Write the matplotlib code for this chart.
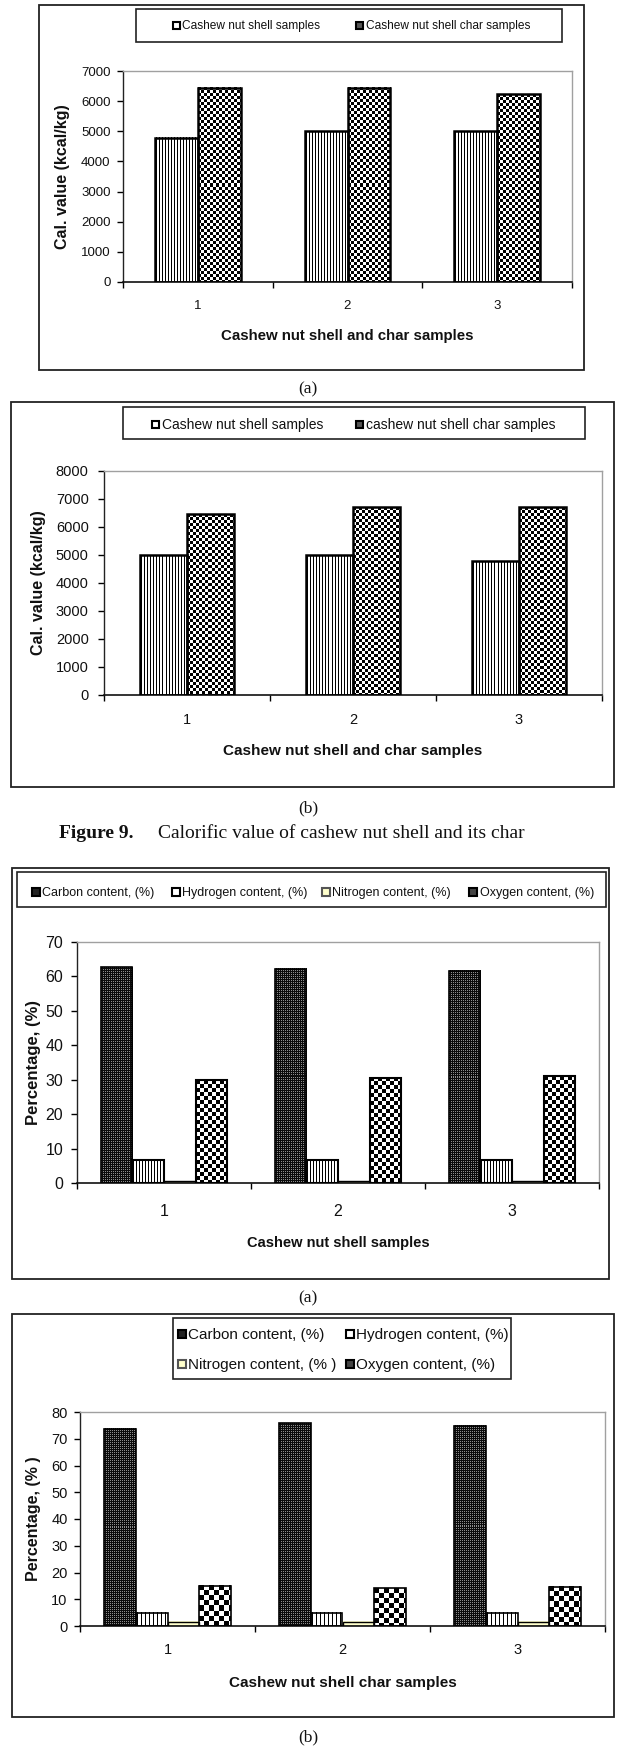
import numpy as np
import matplotlib
matplotlib.use("Agg")
import matplotlib.pyplot as plt
from matplotlib.patches import Rectangle

# ---------------- data ----------------
samples = ["1", "2", "3"]

cal_a_labels = ["Cashew nut shell samples", "Cashew nut shell char samples"]
cal_a_shell = [4790, 5000, 5000]
cal_a_char = [6450, 6450, 6230]

cal_b_labels = ["Cashew nut shell samples", "cashew nut shell char samples"]
cal_b_shell = [5000, 5000, 4780]
cal_b_char = [6450, 6700, 6700]

ult_a_labels = ["Carbon content, (%)", "Hydrogen content, (%)",
                "Nitrogen content, (%)", "Oxygen content, (%)"]
ult_a_carbon = [62.6, 62.2, 61.6]
ult_a_hydrogen = [6.6, 6.6, 6.6]
ult_a_nitrogen = [0.5, 0.5, 0.5]
ult_a_oxygen = [29.9, 30.6, 31.0]

ult_b_labels = ["Carbon content, (%)", "Hydrogen content, (%)",
                "Nitrogen content, (% )", "Oxygen content, (%)"]
ult_b_carbon = [73.8, 75.8, 74.8]
ult_b_hydrogen = [5.0, 5.0, 5.0]
ult_b_nitrogen = [1.5, 1.5, 1.5]
ult_b_oxygen = [15.1, 14.1, 14.7]

# ---------------- setup ----------------
W, H, DPI = 617, 1747, 100
SANS = ["Liberation Sans", "DejaVu Sans"]
SERIF = ["Liberation Serif", "DejaVu Serif"]
TXT = "#111111"

fig = plt.figure(figsize=(W / DPI, H / DPI), dpi=DPI)
fig.patch.set_facecolor("white")


def px_rect(x0, y0, x1, y1):
    return [x0 / W, 1 - y1 / H, (x1 - x0) / W, (y1 - y0) / H]


def box(x0, y0, x1, y1, lw=1.2, color="#222222", fc="none", z=1):
    fig.add_artist(Rectangle((x0 / W, 1 - y1 / H), (x1 - x0) / W, (y1 - y0) / H,
                             transform=fig.transFigure, facecolor=fc,
                             edgecolor=color, lw=lw, zorder=z))


def ftext(x, y, s, **kw):
    fig.text(x / W, 1 - y / H, s, **kw)


# texture generators (pixel-exact fills)
def tex_vlines(period):
    def f(h, w):
        a = np.ones((h, w))
        a[:, 1::period] = 0.0
        return np.dstack([a] * 3)
    return f


def tex_checker(cell):
    def f(h, w):
        yy, xx = np.mgrid[0:h, 0:w]
        a = (((xx // cell) + (yy // cell)) % 2).astype(float)
        return np.dstack([a] * 3)
    return f


def tex_dots(period=2, bg=0.04, dot=0.55):
    def f(h, w):
        a = np.full((h, w), bg)
        a[::period, ::period] = dot
        return np.dstack([a] * 3)
    return f


def tex_solid(rgb):
    def f(h, w):
        return np.ones((h, w, 3)) * np.array(rgb)
    return f


def textured_bars(ax, x, heights, width, tex, lw=1.5):
    bars = ax.bar(x, heights, width, facecolor="none", edgecolor="black",
                  linewidth=lw, zorder=3)
    for p in bars.patches:
        x0, y0 = p.get_x(), p.get_y()
        x1, y1 = x0 + p.get_width(), y0 + p.get_height()
        (px0, py0), (px1, py1) = ax.transData.transform([(x0, y0), (x1, y1)])
        nw = max(1, int(round(px1 - px0)))
        nh = max(1, int(round(py1 - py0)))
        ax.imshow(tex(nh, nw), extent=(x0, x1, y0, y1), aspect="auto",
                  interpolation="nearest", zorder=2)
    return bars


def make_axes(rect, ymax, ystep, tick_size, ypad, xpad):
    ax = fig.add_axes(px_rect(*rect))
    ax.set_xlim(-0.5, 2.5)
    ax.set_ylim(0, ymax)
    ax.set_yticks(np.arange(0, ymax + 1, ystep))
    ax.set_xticks([-0.5, 0.5, 1.5, 2.5], labels=[""] * 4)
    ax.set_xticks(range(len(samples)), labels=samples, minor=True)
    ax.tick_params(axis="x", which="minor", length=0, pad=xpad)
    ax.tick_params(axis="x", which="major", length=4, width=1, direction="out")
    ax.tick_params(axis="y", length=4, width=1, direction="out", pad=ypad)
    for lab in ax.get_xticklabels(minor=True) + ax.get_yticklabels():
        lab.set_family(SANS)
        lab.set_fontsize(tick_size)
        lab.set_color(TXT)
    for s in ("top", "right"):
        ax.spines[s].set_color("#a0a0a0")
        ax.spines[s].set_linewidth(1.0)
    ax.spines["left"].set_color("#222222")
    ax.spines["bottom"].set_color("#111111")
    ax.spines["left"].set_linewidth(1.0)
    ax.spines["bottom"].set_linewidth(1.2)
    ax.set_facecolor("white")
    return ax


def labels(ax, xl, yl, xsize, ysize, xy, yx):
    ax.set_xlabel(xl, family=SANS, fontsize=xsize, fontweight="bold", color=TXT)
    ax.set_ylabel(yl, family=SANS, fontsize=ysize, fontweight="bold", color=TXT)
    ax.xaxis.label.set_va("center")
    ax.yaxis.label.set_va("center")
    ax.xaxis.set_label_coords(0.5, xy)
    ax.yaxis.set_label_coords(yx, 0.5)


def legend_entry(x, y, size, text, fc, fsize, ec="black", lw=1.5):
    box(x, y, x + size, y + size, lw=lw, color=ec, fc=fc, z=5)
    ftext(x + size + 2.5, y + size / 2 + 0.5, text, family=SANS, fontsize=fsize,
          color=TXT, va="center", ha="left")


x = np.arange(len(samples))
bw = 1 / 3.5                      # two bars per group (gap width 150 %)
bw4 = 1 / 5.5                     # four bars per group
offs = (np.arange(4) - 1.5) * bw4

# =============== Chart 1 : calorific value (a) ===============
box(39, 5, 584, 370, lw=1.3)
box(136, 9.5, 562, 42, lw=1.2)
ax1 = make_axes((123, 71, 572, 282), 7000, 1000, 9.5, 5, 13)
textured_bars(ax1, x - bw / 2, cal_a_shell, bw, tex_vlines(3), lw=1.8)
textured_bars(ax1, x + bw / 2, cal_a_char, bw, tex_checker(3), lw=1.8)
ax1.set_xlim(-0.5, 2.5); ax1.set_ylim(0, 7000)
labels(ax1, "Cashew nut shell and char samples", "Cal. value (kcal/kg)",
       10.8, 11.5, -0.256, -0.134)
legend_entry(173, 22, 7, cal_a_labels[0], "white", 8.6)
legend_entry(356, 22, 7, cal_a_labels[1], "#555555", 8.6)
ftext(308, 389, "(a)", family=SERIF, fontsize=12.5, ha="center", va="center", color=TXT)

# =============== Chart 2 : calorific value (b) ===============
box(11, 402, 614, 787, lw=1.3)
box(123, 407, 585, 439, lw=1.2)
ax2 = make_axes((104, 471, 602, 695), 8000, 1000, 10.5, 7, 13)
textured_bars(ax2, x - bw / 2, cal_b_shell, bw, tex_vlines(3), lw=1.8)
textured_bars(ax2, x + bw / 2, cal_b_char, bw, tex_checker(3), lw=1.8)
ax2.set_xlim(-0.5, 2.5); ax2.set_ylim(0, 8000)
labels(ax2, "Cashew nut shell and char samples", "Cal. value (kcal/kg)",
       11, 11.5, -0.25, -0.1325)
legend_entry(152, 421, 7, cal_b_labels[0], "white", 10)
legend_entry(356, 421, 7, cal_b_labels[1], "#555555", 10)
ftext(308, 808, "(b)", family=SERIF, fontsize=12.5, ha="center", va="center", color=TXT)
ftext(59, 834, "Figure 9.", family=SERIF, fontsize=14, fontweight="bold",
      ha="left", va="center", color=TXT)
ftext(158, 834, "Calorific value of cashew nut shell and its char", family=SERIF,
      fontsize=14, ha="left", va="center", color=TXT)

# =============== Chart 3 : ultimate analysis shell (a) ===============
box(12, 868, 609, 1279, lw=1.3)
box(17, 872, 606, 907, lw=1.2)
ax3 = make_axes((77, 942, 599, 1183), 70, 10, 11.5, 6, 15)
textured_bars(ax3, x + offs[0], ult_a_carbon, bw4, tex_dots(), lw=1.2)
textured_bars(ax3, x + offs[1], ult_a_hydrogen, bw4, tex_vlines(3), lw=1.5)
textured_bars(ax3, x + offs[2], ult_a_nitrogen, bw4, tex_solid((1, 1, 0.8)), lw=1.0)
textured_bars(ax3, x + offs[3], ult_a_oxygen, bw4, tex_checker(4), lw=1.5)
ax3.set_xlim(-0.5, 2.5); ax3.set_ylim(0, 70)
labels(ax3, "Cashew nut shell samples", "Percentage, (%)",
       10.5, 12, -0.249, -0.0824)
leg_fc = ["#222222", "white", "#FFFFCC", "#444444"]
leg_ec = ["black", "black", "#555555", "black"]
for mx, lab, fc, ec in zip([32, 172, 322, 469], ult_a_labels, leg_fc, leg_ec):
    legend_entry(mx, 888, 8, lab, fc, 9, ec=ec)
ftext(308, 1298, "(a)", family=SERIF, fontsize=12.5, ha="center", va="center", color=TXT)

# =============== Chart 4 : ultimate analysis char (b) ===============
box(12, 1314, 614, 1717, lw=1.3)
box(173, 1318, 511, 1379, lw=1.2)
ax4 = make_axes((80, 1412, 605, 1626), 80, 10, 10.5, 5, 12)
textured_bars(ax4, x + offs[0], ult_b_carbon, bw4, tex_dots(), lw=1.2)
textured_bars(ax4, x + offs[1], ult_b_hydrogen, bw4, tex_vlines(4), lw=1.2)
textured_bars(ax4, x + offs[2], ult_b_nitrogen, bw4, tex_solid((1, 1, 0.8)), lw=1.0)
textured_bars(ax4, x + offs[3], ult_b_oxygen, bw4, tex_checker(5), lw=1.2)
ax4.set_xlim(-0.5, 2.5); ax4.set_ylim(0, 80)
labels(ax4, "Cashew nut shell char samples", "Percentage, (% )",
       11, 11.5, -0.266, -0.0878)
pos4 = [(178, 1330), (346, 1330), (178, 1360), (346, 1360)]
for (mx, my), lab, fc, ec in zip(pos4, ult_b_labels, leg_fc, leg_ec):
    legend_entry(mx, my, 8, lab, fc, 11, ec=ec)
ftext(308, 1737, "(b)", family=SERIF, fontsize=12.5, ha="center", va="center", color=TXT)

fig.savefig("out.png", dpi=DPI, facecolor="white")
